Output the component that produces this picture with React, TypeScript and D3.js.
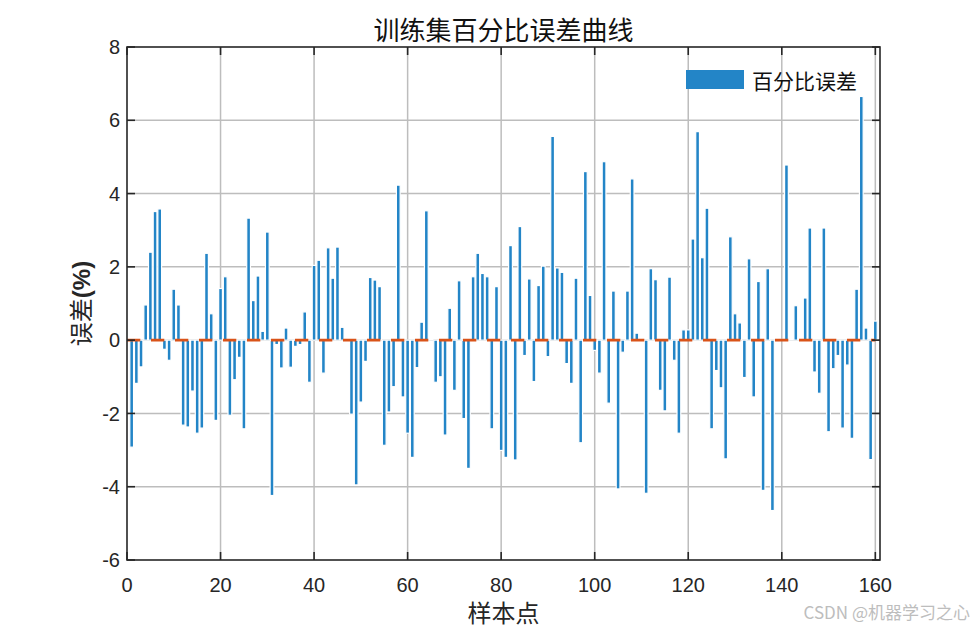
import React from "react";
import * as d3 from "d3";

const errors: number[] = [
  -2.92, -1.18, -0.73, 0.96, 2.4, 3.51, 3.58, -0.25, -0.55, 1.39,
  0.96, -2.32, -2.37, -1.39, -2.54, -2.4, 2.37, 0.72, -2.19, 1.41,
  1.73, -2.05, -1.08, -0.47, -2.42, 3.33, 1.08, 1.75, 0.24, 2.95,
  -4.24, -0.12, -0.76, 0.33, -0.74, -0.17, -0.12, 0.77, -1.15, 2.04,
  2.18, -0.9, 2.52, 1.69, 2.54, 0.35, -0.04, -2.02, -3.95, -1.69,
  -0.58, 1.71, 1.64, 1.46, -2.87, -1.96, -1.27, 4.23, -1.55, -2.54,
  -3.2, -0.75, 0.49, 3.53, 0.03, -1.15, -1.0, -2.59, 0.87, -1.37,
  1.62, -2.14, -3.5, 1.73, 2.37, 1.82, 1.73, -2.42, 1.46, -3.01,
  -3.2, 2.58, -3.27, 3.1, -0.42, 1.67, -1.13, 1.49, 2.02, -0.45,
  5.56, 1.97, 1.85, -0.64, -1.18, 1.69, -2.8, 4.6, 1.22, -0.28,
  -0.9, 4.87, -1.72, 1.34, -4.06, -0.33, 1.34, 4.4, 0.19, 0.02,
  -4.18, 1.95, 1.65, -1.37, -1.93, 1.72, -0.55, -2.54, 0.28, 0.28,
  2.76, 5.69, 2.25, 3.6, -2.42, -0.83, -1.3, -3.24, 2.82, 0.72,
  0.47, -1.02, 2.22, -1.55, 1.6, -4.1, 1.95, -4.65, -0.03, 0.02,
  4.78, 0.03, 0.94, 0.03, 1.15, 3.06, -0.87, -1.45, 3.06, -2.5,
  -0.78, -0.42, -2.4, -0.68, -2.68, 1.39, 6.65, 0.33, -3.26, 0.52,
];

const xTicks: number[] = [0, 20, 40, 60, 80, 100, 120, 140, 160];
const yTicks: number[] = [-6, -4, -2, 0, 2, 4, 6, 8];

const titleText = "训练集百分比误差曲线";
const xLabelText = "样本点";
const yLabelCn = "误差";
const yLabelPct = "(%)";
const legendText = "百分比误差";
const watermark = "CSDN @机器学习之心";

const W = 975;
const H = 630;
const L = 127;
const R = 880;
const T = 47;
const B = 560;

const BLUE = "#2385c7";
const ORANGE = "#d95319";
const AXIS = "#262626";
const GRID = "#bdbdbd";
const CJK = "'Noto Sans CJK SC', 'Noto Sans', sans-serif";
const LAT = "'Liberation Sans', Arial, sans-serif";

export default function App() {
  const x = d3.scaleLinear().domain([0, 161]).range([L, R]);
  const y = d3.scaleLinear().domain([-6, 8]).range([B, T]);
  const unit = x(1) - x(0);
  const bw = unit * 0.8;
  const tick = 8;

  return (
    <svg
      width={W}
      height={H}
      viewBox={`0 0 ${W} ${H}`}
      style={{ position: "absolute", left: 0, top: 0, background: "#fff" }}
    >
      <rect x={0} y={0} width={W} height={H} fill="#fff" />
      <rect x={L} y={T} width={R - L} height={B - T} fill="#fff" />

      {/* grid */}
      {xTicks.filter((t) => t > 0).map((t) => (
        <line key={"gx" + t} x1={x(t)} x2={x(t)} y1={T} y2={B} stroke={GRID} strokeWidth={1.5} />
      ))}
      {yTicks.filter((t) => t > -6 && t < 8).map((t) => (
        <line key={"gy" + t} x1={L} x2={R} y1={y(t)} y2={y(t)} stroke={GRID} strokeWidth={1.5} />
      ))}

      {/* bars */}
      {errors.map((v, i) => {
        const cx = x(i + 1);
        const y0 = y(0);
        const y1 = y(v);
        return (
          <rect
            key={"b" + i}
            x={cx - bw / 2}
            y={Math.min(y0, y1)}
            width={bw}
            height={Math.abs(y1 - y0)}
            fill={BLUE}
            stroke="#fff"
            strokeWidth={1.2}
          />
        );
      })}

      {/* zero reference dashed line */}
      <line
        x1={x(0)}
        x2={x(160)}
        y1={y(0)}
        y2={y(0)}
        stroke={ORANGE}
        strokeWidth={2.7}
        strokeDasharray="13.3 10.7"
      />

      {/* axes box */}
      <rect x={L} y={T} width={R - L} height={B - T} fill="none" stroke={AXIS} strokeWidth={1.6} />
      {xTicks.map((t) => (
        <g key={"tx" + t}>
          <line x1={x(t)} x2={x(t)} y1={B} y2={B - tick} stroke={AXIS} strokeWidth={1.6} />
          <line x1={x(t)} x2={x(t)} y1={T} y2={T + tick} stroke={AXIS} strokeWidth={1.6} />
          <text x={x(t)} y={592} textAnchor="middle" fontFamily={LAT} fontSize={20} fill={AXIS}>
            {t}
          </text>
        </g>
      ))}
      {yTicks.map((t) => (
        <g key={"ty" + t}>
          <line x1={L} x2={L + tick} y1={y(t)} y2={y(t)} stroke={AXIS} strokeWidth={1.6} />
          <line x1={R} x2={R - tick} y1={y(t)} y2={y(t)} stroke={AXIS} strokeWidth={1.6} />
          <text x={120} y={y(t) + 7.2} textAnchor="end" fontFamily={LAT} fontSize={20} fill={AXIS}>
            {t}
          </text>
        </g>
      ))}

      {/* title */}
      <text x={(L + R) / 2} y={40} textAnchor="middle" fontFamily={CJK} fontSize={26} fill="#111">
        {titleText}
      </text>

      {/* x label */}
      <text x={(L + R) / 2} y={622} textAnchor="middle" fontFamily={CJK} fontSize={24} fill={AXIS}>
        {xLabelText}
      </text>

      {/* y label */}
      <text
        transform={`translate(90, ${(T + B) / 2}) rotate(-90)`}
        textAnchor="middle"
        fontSize={24}
        fill={AXIS}
      >
        <tspan fontFamily={CJK}>{yLabelCn}</tspan>
        <tspan fontFamily={LAT} fontWeight="bold">{yLabelPct}</tspan>
      </text>

      {/* legend */}
      <rect x={686} y={70} width={58} height={19} fill={BLUE} />
      <text x={752} y={88.5} fontFamily={CJK} fontSize={21} fill="#111">
        {legendText}
      </text>

      {/* watermark */}
      <text x={970} y={619} textAnchor="end" fontFamily={CJK} fontSize={17} fill="#bdbdbd">
        {watermark}
      </text>
    </svg>
  );
}
